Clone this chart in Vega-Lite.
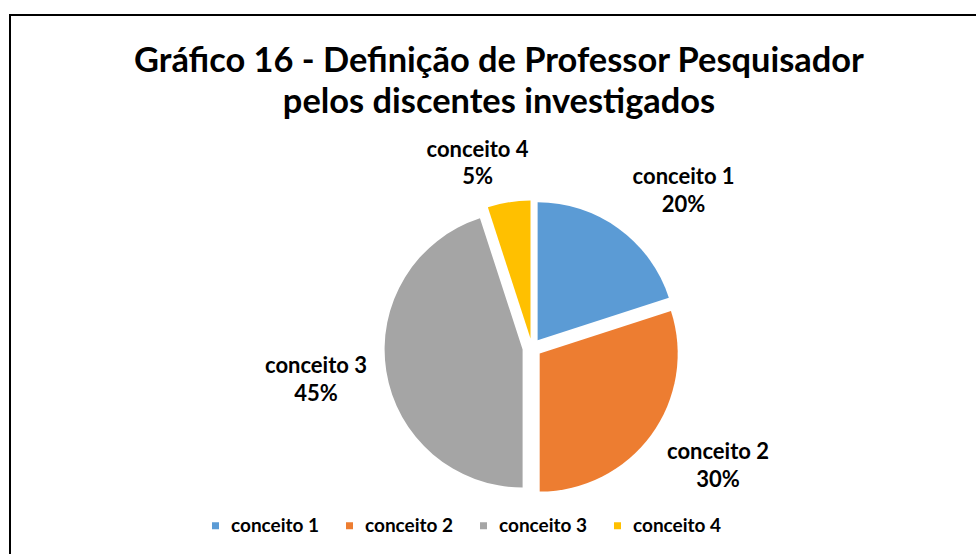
{
  "$schema": "https://vega.github.io/schema/vega-lite/v6.json",
  "width": 1044,
  "height": 666,
  "autosize": {"type": "none"},
  "padding": {"left": 10, "top": 15, "right": -78, "bottom": -127},
  "background": "white",
  "view": {"stroke": "black", "strokeWidth": 2, "fill": "white"},
  "config": {
    "view": {"stroke": "black", "strokeWidth": 2},
    "font": "Lato",
    "text": {"font": "Lato", "fontSize": 22, "fontWeight": "bold", "color": "black", "radius": 212}
  },
  "title": {
    "text": ["Gráfico 16 - Definição de Professor Pesquisador", "pelos discentes investigados"],
    "font": "Lato",
    "fontSize": 34.4,
    "fontWeight": "bold",
    "color": "black",
    "anchor": "middle",
    "offset": -105,
    "dx": -33,
    "lineHeight": 41
  },
  "data": {
    "values": [
      {"category": "conceito 1", "value": 0.20},
      {"category": "conceito 2", "value": 0.30},
      {"category": "conceito 3", "value": 0.45},
      {"category": "conceito 4", "value": 0.05}
    ]
  },
  "transform": [
    {"stack": "value", "groupby": [], "sort": [{"field": "category", "order": "ascending"}], "as": ["v0", "v1"]}
  ],
  "layer": [
    {
      "transform": [{"filter": "datum.category === 'conceito 1'"}],
      "mark": {"type": "arc", "radius": 138, "xOffset": 5.6, "yOffset": -7.7},
      "encoding": {
        "theta": {"field": "v0", "type": "quantitative", "scale": {"domain": [0, 1]}},
        "theta2": {"field": "v1"},
        "color": {
          "field": "category", "type": "nominal",
          "scale": {"domain": ["conceito 1", "conceito 2", "conceito 3", "conceito 4"], "range": ["#5B9BD5", "#ED7D31", "#A5A5A5", "#FFC000"]},
          "legend": {
            "orient": "none", "legendX": 196, "legendY": 501, "direction": "horizontal",
            "title": null, "symbolType": "square", "symbolSize": 49, "symbolStrokeWidth": 0,
            "labelFont": "Lato", "labelFontSize": 19, "labelFontWeight": "bold", "labelColor": "black",
            "labelOffset": 6, "columnPadding": 20
          }
        }
      }
    },
    {
      "transform": [{"filter": "datum.category === 'conceito 2'"}],
      "mark": {"type": "arc", "radius": 138, "xOffset": 7.7, "yOffset": 5.6},
      "encoding": {
        "theta": {"field": "v0", "type": "quantitative", "scale": {"domain": [0, 1]}},
        "theta2": {"field": "v1"},
        "color": {"field": "category", "type": "nominal"}
      }
    },
    {
      "transform": [{"filter": "datum.category === 'conceito 3'"}],
      "mark": {"type": "arc", "radius": 138, "xOffset": -9.4, "yOffset": 1.5},
      "encoding": {
        "theta": {"field": "v0", "type": "quantitative", "scale": {"domain": [0, 1]}},
        "theta2": {"field": "v1"},
        "color": {"field": "category", "type": "nominal"}
      }
    },
    {
      "transform": [{"filter": "datum.category === 'conceito 4'"}],
      "mark": {"type": "arc", "radius": 138, "xOffset": -1.5, "yOffset": -9.4},
      "encoding": {
        "theta": {"field": "v0", "type": "quantitative", "scale": {"domain": [0, 1]}},
        "theta2": {"field": "v1"},
        "color": {"field": "category", "type": "nominal"}
      }
    },
    {
      "transform": [{"filter": "datum.category === 'conceito 1'"}, {"fold": ["v0", "v1"], "as": ["edge", "angle"]}],
      "encoding": {"theta": {"field": "angle", "aggregate": "mean", "type": "quantitative", "scale": {"domain": [0, 1]}}},
      "layer": [
        {"mark": {"type": "text", "dx": 27, "dy": 1}, "encoding": {"text": {"field": "category", "type": "nominal"}}},
        {"mark": {"type": "text", "dx": 27, "dy": 29}, "encoding": {"text": {"field": "value", "type": "quantitative", "format": ".0%"}}}
      ]
    },
    {
      "transform": [{"filter": "datum.category === 'conceito 2'"}, {"fold": ["v0", "v1"], "as": ["edge", "angle"]}],
      "encoding": {"theta": {"field": "angle", "aggregate": "mean", "type": "quantitative", "scale": {"domain": [0, 1]}}},
      "layer": [
        {"mark": {"type": "text", "dx": 14.5, "dy": -21}, "encoding": {"text": {"field": "category", "type": "nominal"}}},
        {"mark": {"type": "text", "dx": 14.5, "dy": 7}, "encoding": {"text": {"field": "value", "type": "quantitative", "format": ".0%"}}}
      ]
    },
    {
      "transform": [{"filter": "datum.category === 'conceito 3'"}, {"fold": ["v0", "v1"], "as": ["edge", "angle"]}],
      "encoding": {"theta": {"field": "angle", "aggregate": "mean", "type": "quantitative", "scale": {"domain": [0, 1]}}},
      "layer": [
        {"mark": {"type": "text", "dx": -6.6, "dy": -15}, "encoding": {"text": {"field": "category", "type": "nominal"}}},
        {"mark": {"type": "text", "dx": -6.6, "dy": 13}, "encoding": {"text": {"field": "value", "type": "quantitative", "format": ".0%"}}}
      ]
    },
    {
      "transform": [{"filter": "datum.category === 'conceito 4'"}, {"fold": ["v0", "v1"], "as": ["edge", "angle"]}],
      "encoding": {"theta": {"field": "angle", "aggregate": "mean", "type": "quantitative", "scale": {"domain": [0, 1]}}},
      "layer": [
        {"mark": {"type": "text", "dx": -21.3, "dy": 11}, "encoding": {"text": {"field": "category", "type": "nominal"}}},
        {"mark": {"type": "text", "dx": -21.3, "dy": 38}, "encoding": {"text": {"field": "value", "type": "quantitative", "format": ".0%"}}}
      ]
    }
  ]
}
